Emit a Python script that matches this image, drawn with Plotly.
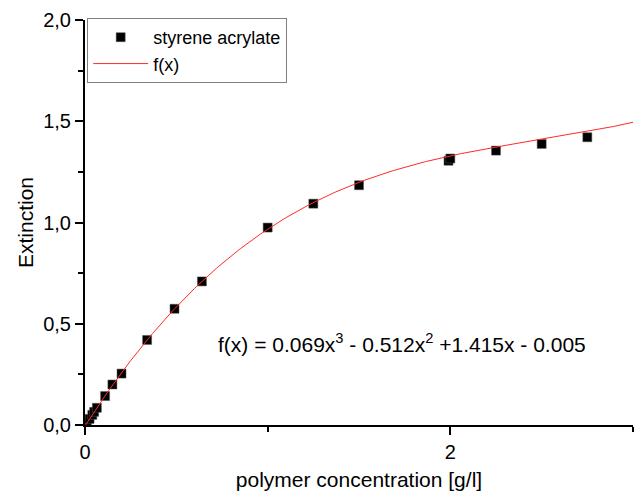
import numpy as np
import plotly.graph_objects as go

# Measured extinction of styrene acrylate vs. polymer concentration
conc = [0.01, 0.025, 0.04, 0.05, 0.065, 0.11, 0.15, 0.20, 0.34, 0.49, 0.64,
        1.00, 1.25, 1.50, 1.99, 2.00, 2.25, 2.50, 2.75]
extinction = [0.01, 0.03, 0.05, 0.065, 0.085, 0.143, 0.20, 0.254, 0.42, 0.574, 0.709,
              0.975, 1.093, 1.184, 1.305, 1.316, 1.355, 1.388, 1.421]

# Cubic fit coefficients (highest power first)
fit_coeffs = [0.069, -0.512, 1.415, -0.005]
fit_label = "f(x) = 0.069x<sup>3</sup> - 0.512x<sup>2</sup> +1.415x - 0.005"

x_fit = np.linspace(0, 3, 301)
y_fit = np.polyval(fit_coeffs, x_fit)

FONT = "Liberation Sans, Arial, sans-serif"

fig = go.Figure()
fig.add_trace(go.Scatter(
    x=conc, y=extinction, mode="markers", name="styrene acrylate",
    marker=dict(symbol="square", size=9, color="black",
                line=dict(width=0.5, color="#555555")),
))
fig.add_trace(go.Scatter(
    x=x_fit, y=y_fit, mode="lines", name="f(x)",
    line=dict(color="#ff2a2a", width=1),
))

fig.add_annotation(
    x=0.715, y=0.405, xref="x", yref="y", text=fit_label, showarrow=False,
    xanchor="left", yanchor="middle",
    font=dict(family=FONT, size=21, color="black"),
)

axis_font = dict(family=FONT, size=20, color="black")
title_font = dict(family=FONT, size=21, color="black")

fig.update_layout(
    width=636, height=493,
    margin=dict(l=85, r=3, t=20, b=68),
    paper_bgcolor="white", plot_bgcolor="white",
    separators=",.",
    showlegend=True,
    legend=dict(
        x=0.004, y=1.005, xanchor="left", yanchor="top",
        bgcolor="white", bordercolor="#808080", borderwidth=1,
        font=dict(family=FONT, size=18, color="black"),
        itemwidth=55, tracegroupgap=0,
        entrywidth=150, entrywidthmode="pixels",
    ),
    xaxis=dict(
        range=[0, 3], showgrid=False, zeroline=False, automargin=False,
        showline=True, linecolor="black", linewidth=2,
        tickvals=[0, 2], ticktext=["0", "2"],
        ticks="outside", ticklen=8, tickwidth=1.5, tickcolor="black",
        minor=dict(tickvals=[1, 3], ticks="outside", ticklen=5, tickwidth=1.5, tickcolor="black"),
        tickfont=axis_font,
        title=dict(text="polymer concentration [g/l]", font=title_font, standoff=10),
    ),
    yaxis=dict(
        range=[0, 2], showgrid=False, zeroline=False, automargin=False,
        showline=True, linecolor="black", linewidth=2,
        dtick=0.5, tickformat=".1f",
        ticks="outside", ticklen=8, tickwidth=1.5, tickcolor="black",
        minor=dict(dtick=0.25, ticks="outside", ticklen=5, tickwidth=1.5, tickcolor="black"),
        tickfont=axis_font,
        title=dict(text="Extinction", font=title_font, standoff=4),
    ),
)

fig.write_html("out.html")
